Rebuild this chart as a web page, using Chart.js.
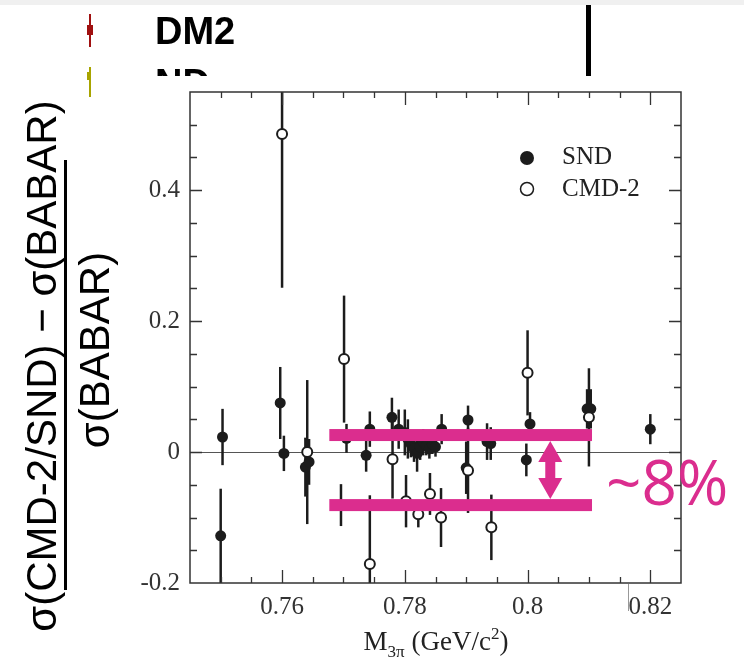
<!DOCTYPE html>
<html>
<head>
<meta charset="utf-8">
<script src="https://cdn.jsdelivr.net/npm/chart.js@4.4.1/dist/chart.umd.min.js"></script>
<style>
html, body { margin: 0; padding: 0; background: #fff; }
#wrap { width: 744px; height: 663px; }
</style>
</head>
<body>
<div id="wrap"><canvas id="chart" width="744" height="663"></canvas></div>
<script>
// SND: mass (GeV/c^2), relative difference, error
var sndMass = [0.7500, 0.7503, 0.7597, 0.7603, 0.7638, 0.7644, 0.7696, 0.7705, 0.7737, 0.7743,
               0.7779, 0.7790, 0.7800, 0.7805, 0.7810, 0.7815, 0.7820, 0.7825, 0.7830, 0.7835,
               0.7840, 0.7845, 0.7850, 0.7860, 0.7900, 0.7903, 0.7934, 0.7940, 0.7998, 0.8004,
               0.8097, 0.8103, 0.8200];
var sndDiff = [-0.128, 0.023, 0.075, -0.002, -0.023, -0.015, -0.081, 0.021, -0.005, 0.035,
               0.053, 0.035, 0.030, 0.020, 0.012, 0.005, -0.002, 0.008, 0.015, 0.010,
               0.005, 0.012, 0.008, 0.035, -0.024, 0.049, 0.016, 0.013, -0.012, 0.043,
               0.066, 0.066, 0.035];
var sndErr  = [0.072, 0.043, 0.055, 0.027, 0.045, 0.035, 0.032, 0.022, 0.025, 0.027,
               0.030, 0.030, 0.035, 0.030, 0.020, 0.020, 0.028, 0.020, 0.020, 0.015,
               0.015, 0.015, 0.015, 0.023, 0.040, 0.022, 0.028, 0.025, 0.025, 0.018,
               0.030, 0.030, 0.023];

// CMD-2
var cmdMass = [0.7600, 0.7641, 0.7701, 0.7743, 0.7780, 0.7802, 0.7822, 0.7841, 0.7859, 0.7903,
               0.7941, 0.8000, 0.8100];
var cmdDiff = [0.486, 0.000, 0.142, -0.171, -0.011, -0.075, -0.095, -0.064, -0.100, -0.028,
               -0.115, 0.121, 0.053];
var cmdErr  = [0.235, 0.110, 0.097, 0.105, 0.060, 0.040, 0.020, 0.032, 0.045, 0.065,
               0.050, 0.065, 0.075];

var xTickValues = [0.76, 0.78, 0.80, 0.82];
var xTickLabels = ['0.76', '0.78', '0.8', '0.82'];
var yTickValues = [-0.2, 0, 0.2, 0.4];
var yTickLabels = ['-0.2', '0', '0.2', '0.4'];

// the two hand-drawn lines on the slide (~8% apart)
var bandLevels = [0.026, -0.081];
var bandFrom = 0.7677, bandTo = 0.8105, arrowAt = 0.8037;

var MAGENTA = '#db2d8e';
var INK = '#1c1c1c';

function toPoints(xs, ys) {
    return xs.map(function (x, i) { return { x: x, y: ys[i] }; });
}

var decor = {
    id: 'decor',
    beforeDraw: function (chart) {
        var c = chart.ctx;
        c.save();
        c.fillStyle = '#fff';
        c.fillRect(0, 0, chart.width, chart.height);
        c.fillStyle = '#f0f0f0';
        c.fillRect(0, 0, chart.width, 5);

        // leftover legend of the slide underneath
        c.strokeStyle = '#a01010'; c.lineWidth = 2;
        c.beginPath(); c.moveTo(90, 14); c.lineTo(90, 47); c.stroke();
        c.fillStyle = '#a01010'; c.fillRect(87, 25, 6, 10);
        c.strokeStyle = '#a8a400';
        c.beginPath(); c.moveTo(90, 67); c.lineTo(90, 97); c.stroke();
        c.fillStyle = '#a8a400'; c.fillRect(87, 72, 4, 8);
        c.fillStyle = '#000';
        c.font = 'bold 38px "Liberation Sans"';
        c.textBaseline = 'alphabetic'; c.textAlign = 'left';
        c.fillText('DM2', 155, 44);
        c.save();
        c.beginPath(); c.rect(100, 60, 300, 16); c.clip();
        c.fillText('ND', 155, 96);
        c.restore();
        c.fillRect(586, 5, 5, 71);

        // y title as a fraction, rotated
        c.save();
        c.rotate(-Math.PI / 2);
        c.fillStyle = '#000';
        c.font = '42px "Liberation Sans"';
        c.textAlign = 'center'; c.textBaseline = 'middle';
        c.fillText('σ(CMD-2/SND) − σ(BABAR)', -366, 44);
        c.fillText('σ(BABAR)', -350, 97);
        c.fillRect(-590, 64, 430, 3);
        c.restore();

        // x title
        c.fillStyle = '#222';
        c.textAlign = 'left'; c.textBaseline = 'alphabetic';
        var big = '27px "Liberation Serif"', small = '17px "Liberation Serif"';
        var parts = [['M', big, 0], ['3π', small, 7], [' (GeV/c', big, 0], ['2', small, -11], [')', big, 0]];
        var w = 0;
        parts.forEach(function (p) { c.font = p[1]; w += c.measureText(p[0]).width; });
        var x = 436 - w / 2;
        parts.forEach(function (p) {
            c.font = p[1];
            c.fillText(p[0], x, 650 + p[2]);
            x += c.measureText(p[0]).width;
        });

        // stray mark under the axis
        c.strokeStyle = '#999'; c.lineWidth = 1;
        c.beginPath(); c.moveTo(628.5, 584); c.lineTo(628.5, 611); c.stroke();
        c.restore();
    },
    beforeDatasetsDraw: function (chart) {
        var c = chart.ctx, a = chart.chartArea;
        var xs = chart.scales.x, ys = chart.scales.y;
        c.save();
        c.beginPath(); c.rect(a.left, a.top, a.right - a.left, a.bottom - a.top); c.clip();

        // zero line
        c.strokeStyle = '#555'; c.lineWidth = 1;
        var y0 = Math.round(ys.getPixelForValue(0)) + 0.5;
        c.beginPath(); c.moveTo(a.left, y0); c.lineTo(a.right, y0); c.stroke();

        // error bars
        c.strokeStyle = INK; c.lineWidth = 2.5;
        [[sndMass, sndDiff, sndErr], [cmdMass, cmdDiff, cmdErr]].forEach(function (s) {
            s[0].forEach(function (m, i) {
                var px = xs.getPixelForValue(m);
                c.beginPath();
                c.moveTo(px, ys.getPixelForValue(s[1][i] + s[2][i]));
                c.lineTo(px, ys.getPixelForValue(s[1][i] - s[2][i]));
                c.stroke();
            });
        });
        c.restore();

        // frame and inward ticks
        c.save();
        c.strokeStyle = '#333'; c.lineWidth = 1.5;
        c.strokeRect(a.left, a.top, a.right - a.left, a.bottom - a.top);
        c.lineWidth = 1.3;
        var v, p, major;
        for (v = 0.75; v <= 0.8201; v += 0.005) {
            p = Math.round(xs.getPixelForValue(v)) + 0.5;
            major = xTickValues.some(function (t) { return Math.abs(t - v) < 1e-6; });
            var L = major ? 13 : 6;
            c.beginPath();
            c.moveTo(p, a.bottom); c.lineTo(p, a.bottom - L);
            c.moveTo(p, a.top); c.lineTo(p, a.top + L);
            c.stroke();
        }
        for (v = -0.15; v <= 0.5001; v += 0.05) {
            p = Math.round(ys.getPixelForValue(v)) + 0.5;
            major = yTickValues.some(function (t) { return Math.abs(t - v) < 1e-6; });
            var Ly = major ? 12 : 7;
            c.beginPath();
            c.moveTo(a.left, p); c.lineTo(a.left + Ly, p);
            c.moveTo(a.right, p); c.lineTo(a.right - Ly, p);
            c.stroke();
        }

        // legend inside the frame
        c.fillStyle = INK;
        c.beginPath(); c.arc(527, 158, 7, 0, Math.PI * 2); c.fill();
        c.strokeStyle = INK; c.lineWidth = 1.5;
        c.fillStyle = '#fff';
        c.beginPath(); c.arc(527, 189, 6.5, 0, Math.PI * 2); c.fill(); c.stroke();
        c.fillStyle = '#222';
        c.font = '25px "Liberation Serif"';
        c.textAlign = 'left'; c.textBaseline = 'middle';
        c.fillText(chart.data.datasets[0].label, 562, 157);
        c.fillText(chart.data.datasets[1].label, 562, 189);
        c.restore();
    },
    afterDatasetsDraw: function (chart) {
        var c = chart.ctx;
        var xs = chart.scales.x, ys = chart.scales.y;
        var x1 = xs.getPixelForValue(bandFrom), x2 = xs.getPixelForValue(bandTo);
        var yU = ys.getPixelForValue(bandLevels[0]), yL = ys.getPixelForValue(bandLevels[1]);
        c.save();
        c.fillStyle = MAGENTA;
        c.fillRect(x1, yU - 6, x2 - x1, 12);
        c.fillRect(x1, yL - 6, x2 - x1, 12);

        // double arrow
        var ax = xs.getPixelForValue(arrowAt);
        var top = yU + 6, bot = yL - 6, head = 21, hw = 12, sw = 5;
        c.beginPath();
        c.moveTo(ax, top);
        c.lineTo(ax + hw, top + head);
        c.lineTo(ax + sw, top + head);
        c.lineTo(ax + sw, bot - head);
        c.lineTo(ax + hw, bot - head);
        c.lineTo(ax, bot);
        c.lineTo(ax - hw, bot - head);
        c.lineTo(ax - sw, bot - head);
        c.lineTo(ax - sw, top + head);
        c.lineTo(ax - hw, top + head);
        c.closePath();
        c.fill();

        c.font = '62px "Open Sans"';
        c.textAlign = 'left'; c.textBaseline = 'alphabetic';
        c.fillText('~8%', 606, 505);
        c.restore();
    }
};

new Chart(document.getElementById('chart').getContext('2d'), {
    type: 'scatter',
    data: {
        datasets: [{
            label: 'SND',
            data: toPoints(sndMass, sndDiff),
            order: 1,
            pointRadius: 5.5,
            pointBackgroundColor: INK,
            pointBorderColor: INK,
            pointBorderWidth: 0
        }, {
            label: 'CMD-2',
            data: toPoints(cmdMass, cmdDiff),
            order: 0,
            pointRadius: 5,
            pointBackgroundColor: '#fff',
            pointBorderColor: INK,
            pointBorderWidth: 2
        }]
    },
    options: {
        responsive: false,
        animation: false,
        devicePixelRatio: 1,
        layout: { padding: { top: 92, right: 63, left: 0, bottom: 0 } },
        plugins: { legend: { display: false }, tooltip: { enabled: false } },
        scales: {
            x: {
                type: 'linear',
                min: 0.745,
                max: 0.825,
                grid: { display: false, drawTicks: false },
                border: { display: false },
                afterBuildTicks: function (s) { s.ticks = xTickValues.map(function (v) { return { value: v }; }); },
                afterFit: function (s) { s.height = 80; },
                ticks: {
                    padding: 9,
                    color: '#333',
                    font: { family: 'Liberation Serif', size: 25 },
                    maxRotation: 0,
                    callback: function (v, i) { return xTickLabels[i]; }
                }
            },
            y: {
                min: -0.2,
                max: 0.55,
                grid: { display: false, drawTicks: false },
                border: { display: false },
                afterBuildTicks: function (s) { s.ticks = yTickValues.map(function (v) { return { value: v }; }); },
                afterFit: function (s) { s.width = 190; },
                ticks: {
                    padding: 10,
                    color: '#333',
                    font: { family: 'Liberation Serif', size: 25 },
                    callback: function (v, i) { return yTickLabels[i]; }
                }
            }
        }
    },
    plugins: [decor]
});
</script>
</body>
</html>
